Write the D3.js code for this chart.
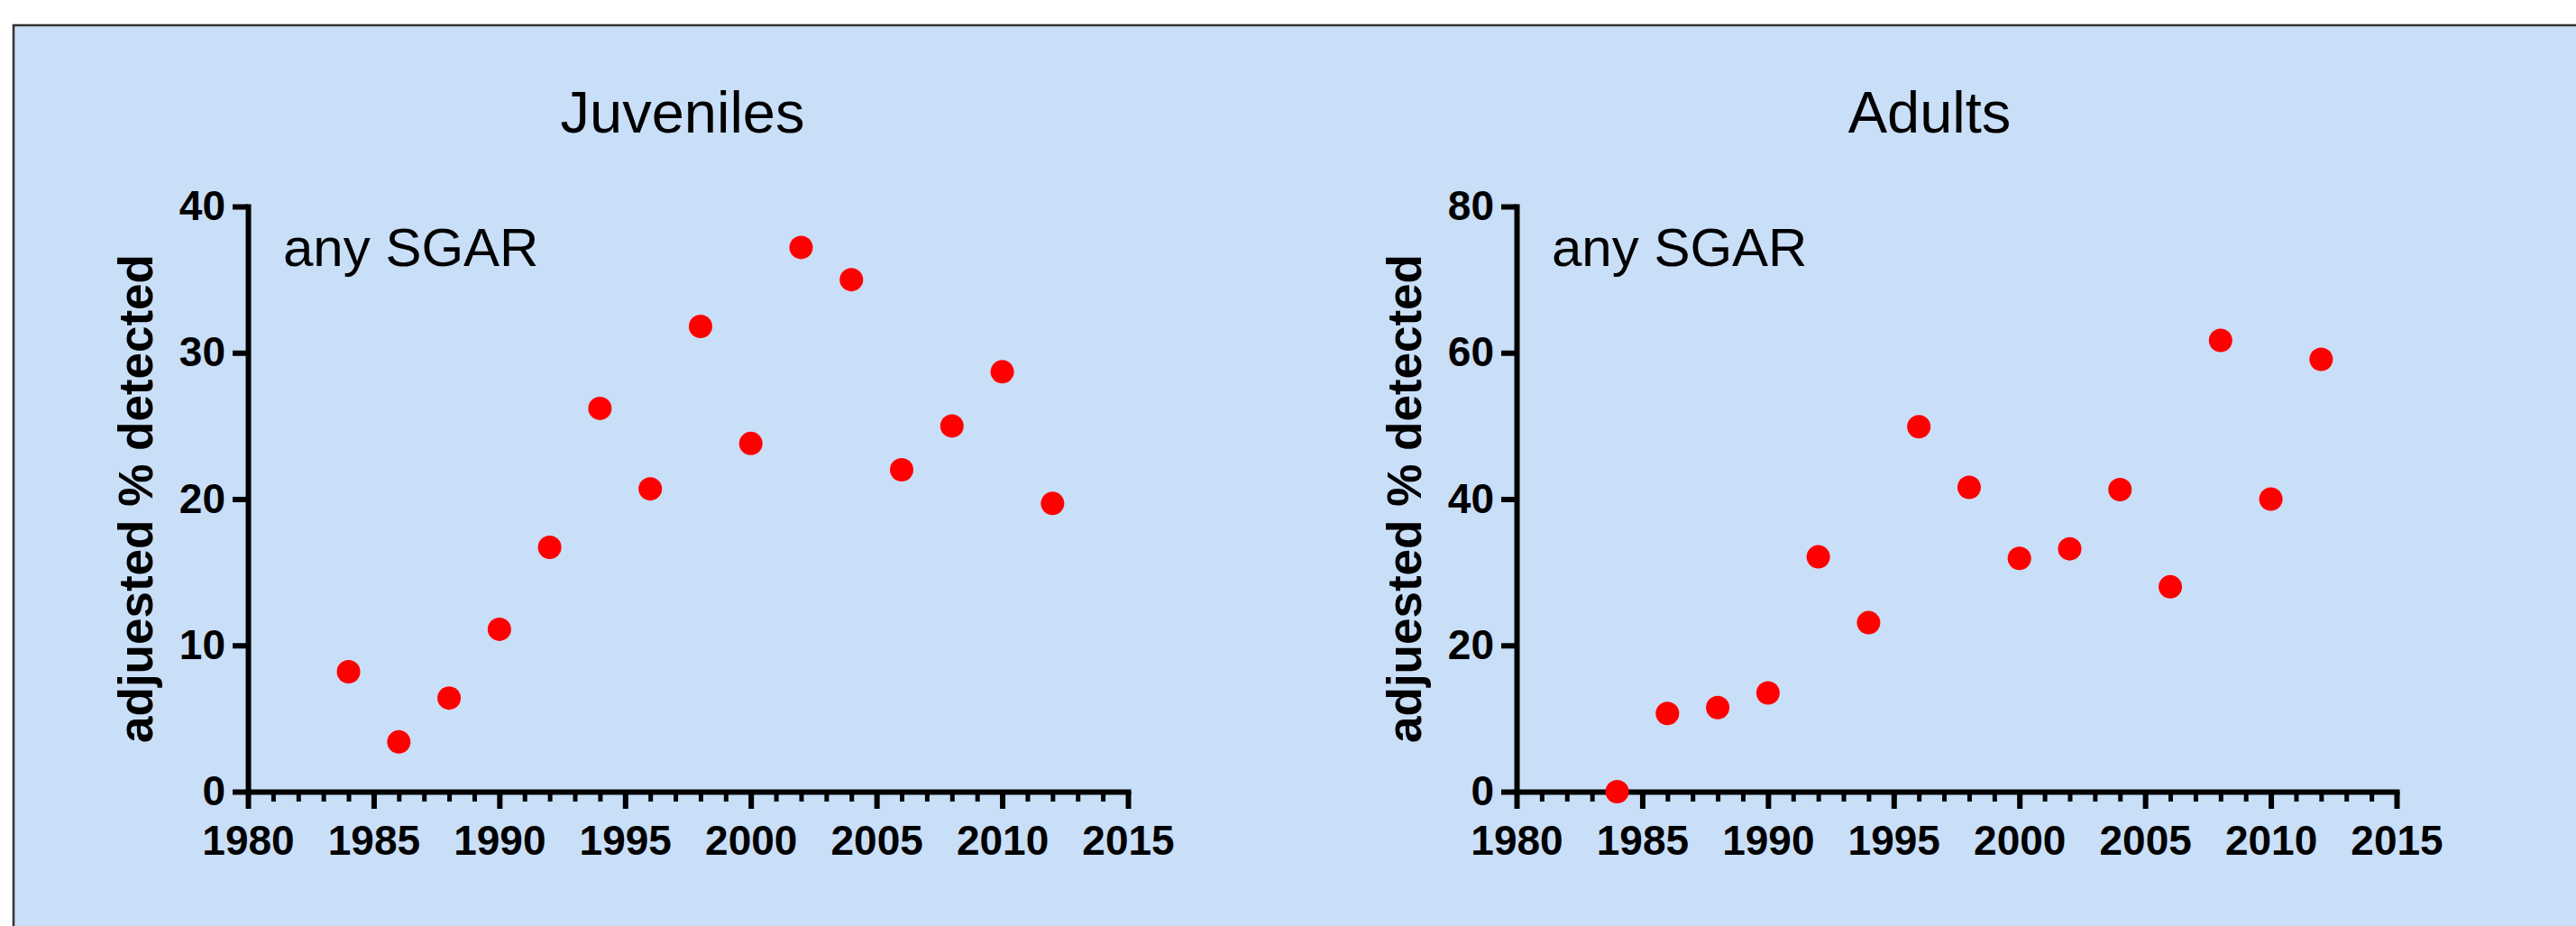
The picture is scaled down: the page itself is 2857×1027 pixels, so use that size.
<!DOCTYPE html>
<meta charset="utf-8">
<style>
body {
  margin: 0;
  background: #fff;
  font-family: "Liberation Sans", Arial, Helvetica, sans-serif;
}
.axis path, .axis line { stroke: #000; }
.axis text { font-weight: bold; fill: #000; }
</style>
<svg width="2857" height="1027"></svg>
<script src="https://d3js.org/d3.v7.min.js"></script>
<script>

var years    = [1984, 1986, 1988, 1990, 1992, 1994, 1996, 1998, 2000, 2002, 2004, 2006, 2008, 2010, 2012];
var juvenile = [8.2, 3.4, 6.4, 11.1, 16.7, 26.2, 20.7, 31.8, 23.8, 37.2, 35.0, 22.0, 25.0, 28.7, 19.7];
var adult    = [0.0, 10.7, 11.5, 13.5, 32.1, 23.1, 49.9, 41.6, 31.9, 33.2, 41.3, 28.0, 61.7, 40.0, 59.1];

var xMajorTicks = [1980, 1985, 1990, 1995, 2000, 2005, 2010, 2015];
var xMinorTicks = d3.range(1980, 2016);
var yTicksJuv   = [0, 10, 20, 30, 40];
var yTicksAdult = [0, 20, 40, 60, 80];

var svg = d3.select("svg");

// panel background, only top and left edges show
svg.append("rect")
    .attr("x", 15).attr("y", 28)
    .attr("width", 2900).attr("height", 1100)
    .attr("fill", "#c9def7")
    .attr("stroke", "#333")
    .attr("stroke-width", 2.5);

function panel(opts) {
  var x = d3.scaleLinear().domain([1980, 2015]).range([opts.left, opts.left + 976]);
  var y = d3.scaleLinear().domain([0, opts.yMax]).range([878, 229]);

  var g = svg.append("g");

  // minor x ticks
  g.append("g")
      .attr("class", "axis")
      .attr("transform", "translate(0,878)")
      .call(d3.axisBottom(x).tickValues(xMinorTicks).tickSize(11).tickSizeOuter(0).tickFormat(""))
      .call(function(a) {
        a.select(".domain").remove();
        a.selectAll("line").attr("stroke-width", 5);
      });

  // major x ticks + labels
  g.append("g")
      .attr("class", "axis")
      .attr("transform", "translate(0,878)")
      .call(d3.axisBottom(x).tickValues(xMajorTicks).tickSize(19).tickSizeOuter(0).tickPadding(18).tickFormat(d3.format("d")))
      .call(function(a) {
        a.select(".domain").attr("stroke-width", 6).attr("stroke-linecap", "square");
        a.selectAll("line").attr("stroke-width", 6);
        a.selectAll("text").attr("font-size", 46);
      });

  // y axis
  g.append("g")
      .attr("class", "axis")
      .attr("transform", "translate(" + opts.left + ",0)")
      .call(d3.axisLeft(y).tickValues(opts.yTicks).tickSize(17).tickSizeOuter(0).tickPadding(8))
      .call(function(a) {
        a.select(".domain").attr("stroke-width", 6).attr("stroke-linecap", "square");
        a.selectAll("line").attr("stroke-width", 6);
        a.selectAll("text").attr("font-size", 46);
      });

  // y label
  g.append("text")
      .attr("transform", "translate(" + (opts.left - 106) + ",553) rotate(-90)")
      .attr("text-anchor", "middle")
      .attr("font-size", 53)
      .attr("font-weight", "bold")
      .text("adjuested % detected");

  // title
  g.append("text")
      .attr("x", opts.titleX).attr("y", 147)
      .attr("text-anchor", "middle")
      .attr("font-size", 65)
      .text(opts.title);

  g.append("text")
      .attr("x", opts.left + 39).attr("y", 295)
      .attr("font-size", 60)
      .text("any SGAR");

  g.selectAll("circle")
    .data(years)
    .enter().append("circle")
      .attr("cx", function(d) { return x(d); })
      .attr("cy", function(d, i) { return y(opts.values[i]); })
      .attr("r", 13)
      .attr("fill", "#ff0000");
}

panel({ left: 275, yMax: 40, yTicks: yTicksJuv, values: juvenile, title: "Juveniles", titleX: 757 });
panel({ left: 1682, yMax: 80, yTicks: yTicksAdult, values: adult, title: "Adults", titleX: 2140 });

</script>
